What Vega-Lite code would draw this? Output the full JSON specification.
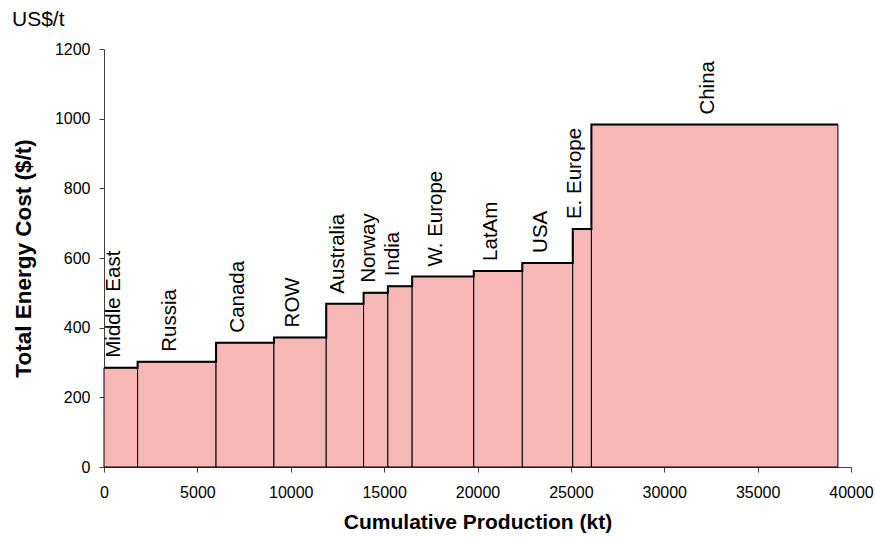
{
  "$schema": "https://vega.github.io/schema/vega-lite/v6.json",
  "width": 747,
  "height": 418,
  "autosize": "none",
  "padding": {"left": 104, "top": 49, "right": 25, "bottom": 71},
  "background": "white",
  "config": {
    "view": {"stroke": null},
    "font": "Liberation Sans",
    "axis": {"grid": false, "domainColor": "#404040", "tickColor": "#404040", "labelColor": "#000000", "titleColor": "#000000", "labelFont": "Liberation Sans", "titleFont": "Liberation Sans"}
  },
  "title": {
    "text": "US$/t",
    "anchor": "start",
    "frame": "group",
    "dx": -92,
    "dy": 3,
    "fontSize": 21,
    "fontWeight": "normal",
    "font": "Liberation Sans",
    "color": "#000000",
    "offset": 14
  },
  "data": {
    "values": [
      {"region": "Middle East", "x0": 0, "x1": 1800, "cost": 285},
      {"region": "Russia", "x0": 1800, "x1": 6000, "cost": 302},
      {"region": "Canada", "x0": 6000, "x1": 9100, "cost": 357},
      {"region": "ROW", "x0": 9100, "x1": 11900, "cost": 372},
      {"region": "Australia", "x0": 11900, "x1": 13900, "cost": 469},
      {"region": "Norway", "x0": 13900, "x1": 15200, "cost": 500},
      {"region": "India", "x0": 15200, "x1": 16500, "cost": 519},
      {"region": "W. Europe", "x0": 16500, "x1": 19800, "cost": 547},
      {"region": "LatAm", "x0": 19800, "x1": 22400, "cost": 563},
      {"region": "USA", "x0": 22400, "x1": 25100, "cost": 586},
      {"region": "E. Europe", "x0": 25100, "x1": 26100, "cost": 683},
      {"region": "China", "x0": 26100, "x1": 39300, "cost": 983}
    ]
  },
  "layer": [
    {
      "mark": {"type": "rect", "fill": "#F6B7B7", "stroke": "#000000", "strokeWidth": 1},
      "encoding": {
        "x": {
          "field": "x0", "type": "quantitative",
          "scale": {"domain": [0, 40000], "nice": false, "zero": true},
          "axis": {
            "title": "Cumulative Production (kt)",
            "values": [0, 5000, 10000, 15000, 20000, 25000, 30000, 35000, 40000],
            "format": "d",
            "labelFontSize": 16,
            "labelPadding": 12,
            "tickSize": 5,
            "titleFontSize": 21,
            "titleFontWeight": "bold",
            "titlePadding": 11,
            "labelFlush": false
          }
        },
        "x2": {"field": "x1"},
        "y": {
          "field": "cost", "type": "quantitative",
          "scale": {"domain": [0, 1200], "nice": false},
          "axis": {
            "title": "Total Energy Cost ($/t)",
            "values": [0, 200, 400, 600, 800, 1000, 1200],
            "format": "d",
            "labelFontSize": 16,
            "labelPadding": 9,
            "tickSize": 5,
            "titleFontSize": 22.5,
            "titleFontWeight": "bold",
            "titlePadding": 19
          }
        },
        "y2": {"datum": 0}
      }
    },
    {
      "transform": [
        {"fold": ["x0", "x1"], "as": ["edge", "xpos"]}
      ],
      "mark": {"type": "line", "stroke": "#000000", "strokeWidth": 2, "interpolate": "linear"},
      "encoding": {
        "x": {"field": "xpos", "type": "quantitative"},
        "y": {"field": "cost", "type": "quantitative"},
        "order": [{"field": "xpos", "type": "quantitative"}, {"field": "cost", "type": "quantitative"}]
      }
    },
    {
      "transform": [
        {"calculate": "(datum.x0 + datum.x1) / 2", "as": "mid"}
      ],
      "mark": {"type": "text", "angle": 270, "align": "left", "baseline": "middle", "fontSize": 20.5, "font": "Liberation Sans", "color": "#000000", "dx": 10, "dy": -7},
      "encoding": {
        "x": {"field": "mid", "type": "quantitative"},
        "y": {"field": "cost", "type": "quantitative"},
        "text": {"field": "region"}
      }
    }
  ]
}
